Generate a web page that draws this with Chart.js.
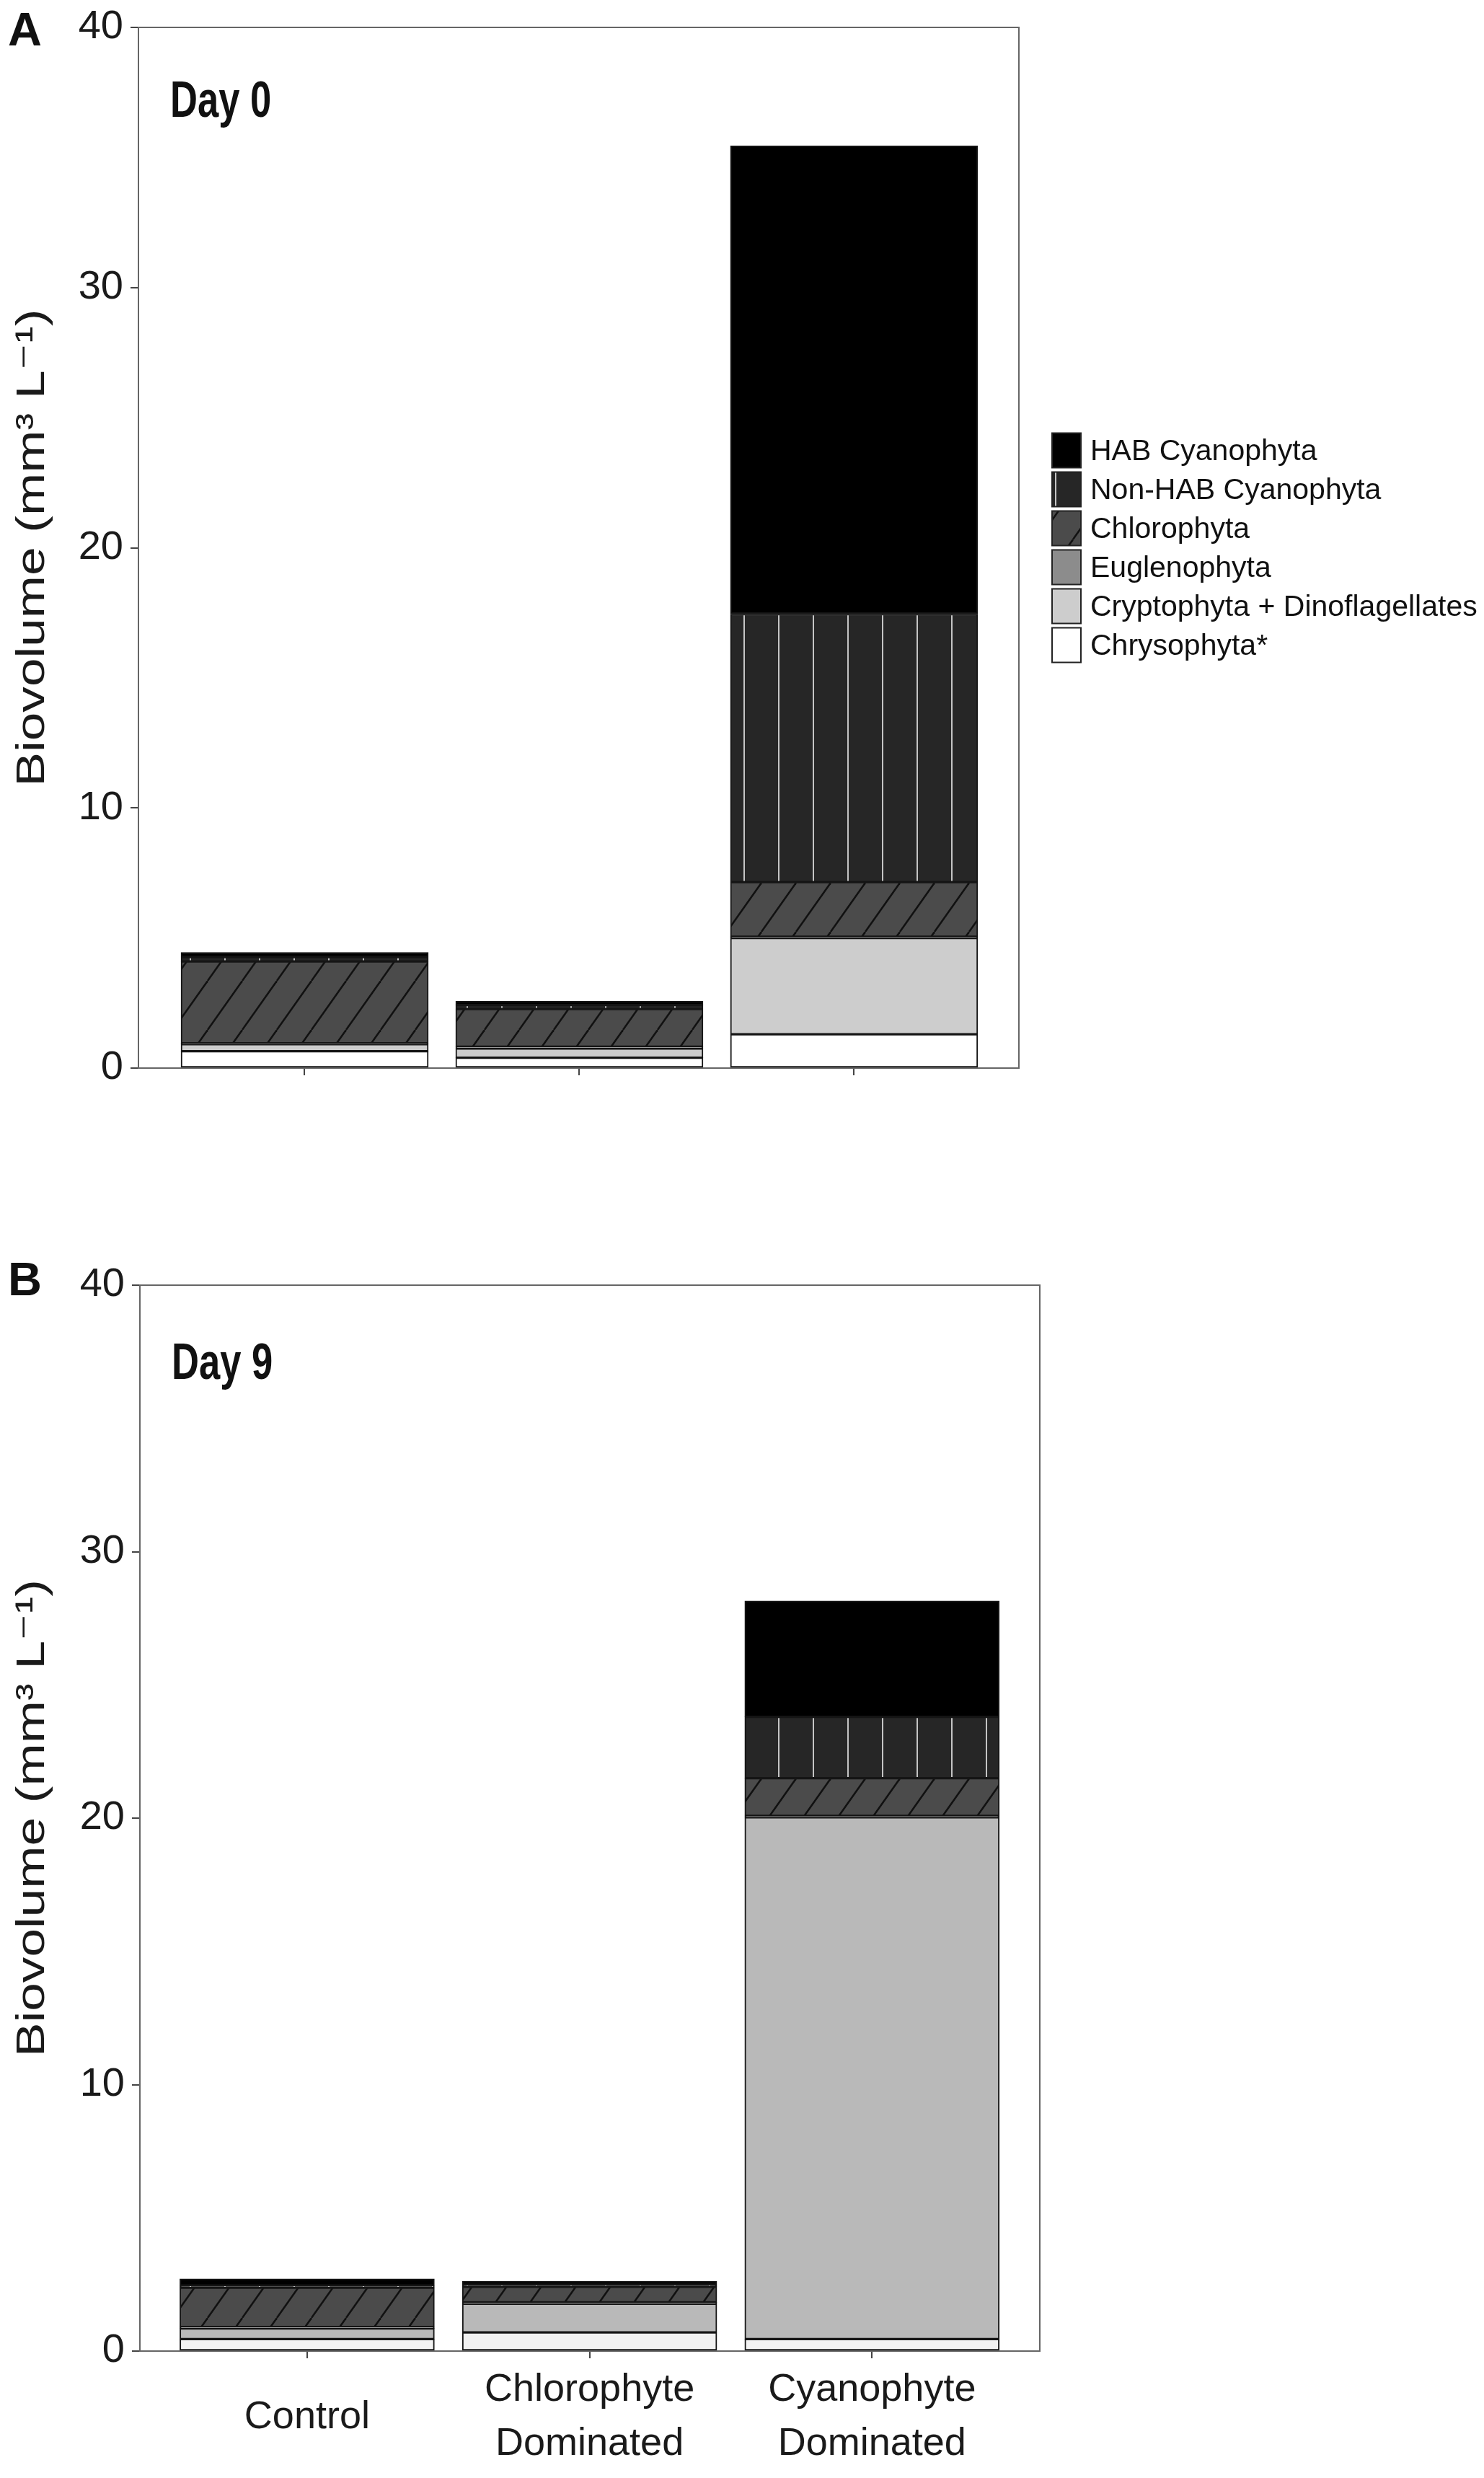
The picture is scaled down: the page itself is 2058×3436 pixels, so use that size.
<!DOCTYPE html>
<html>
<head>
<meta charset="utf-8">
<script src="https://cdn.jsdelivr.net/npm/chart.js@4.4.1/dist/chart.umd.min.js"></script>
<style>
  html, body { margin: 0; padding: 0; background: #fff; overflow: hidden; }
  #wrapA { position: absolute; left: 0; top: 0; width: 2058px; height: 1600px; }
  #wrapB { position: absolute; left: 0; top: 1650px; width: 2058px; height: 1786px; }
</style>
</head>
<body>
<div id="wrapA"><canvas id="chartA"></canvas></div>
<div id="wrapB"><canvas id="chartB"></canvas></div>
<script>
const categories = [['Control'], ['Chlorophyte', 'Dominated'], ['Cyanophyte', 'Dominated']];
// stack order, bottom to top
const taxa = ['Chrysophyta*', 'Cryptophyta + Dinoflagellates', 'Euglenophyta', 'Chlorophyta', 'Non-HAB Cyanophyta', 'HAB Cyanophyta'];
const yTicks = [0, 10, 20, 30, 40];
const yTitle = 'Biovolume (mm\u00B3 L\u207B\u00B9)';

// Day 0 biovolume (mm3 L-1): Control, Chlorophyte Dom., Cyanophyte Dom.
const chrysoDay0 = [0.65, 0.40, 1.30];
const cryptoDay0 = [0.27, 0.35, 3.70];
const euglenoDay0 = [0.03, 0.07, 0.05];
const chloroDay0 = [3.15, 1.45, 2.10];
const nonHabDay0 = [0.17, 0.15, 10.30];
const habDay0 = [0.18, 0.15, 18.00];

// Day 9
const chrysoDay9 = [0.45, 0.70, 0.45];
const cryptoDay9 = [0.40, 1.08, 19.58];
const euglenoDay9 = [0.05, 0.05, 0.05];
const chloroDay9 = [1.48, 0.58, 1.42];
const nonHabDay9 = [0.08, 0.08, 2.30];
const habDay9 = [0.25, 0.13, 4.35];

const SANS = '"Liberation Sans", Arial, "DejaVu Sans", sans-serif';

function tile(w, h, draw) {
  const c = document.createElement('canvas');
  c.width = w; c.height = h;
  const g = c.getContext('2d');
  draw(g, w, h);
  return g.createPattern(c, 'repeat');
}

// white vertical rules on near-black
const nonHabFill = tile(48, 10, (g, w, h) => {
  g.fillStyle = '#262626'; g.fillRect(0, 0, w, h);
  g.fillStyle = '#c4c4c4'; g.fillRect(23, 0, 2, h);
});

// black diagonal hatch on dark grey
const chloroFill = tile(48, 68, (g, w, h) => {
  g.fillStyle = '#4b4b4b'; g.fillRect(0, 0, w, h);
  g.strokeStyle = '#111'; g.lineWidth = 2.5;
  [-w, 0, w].forEach(dx => {
    g.beginPath(); g.moveTo(dx, h); g.lineTo(dx + w, 0); g.stroke();
  });
});

function makeDatasets(values, colors) {
  return taxa.map((name, i) => ({
    label: name,
    data: values[i].map((v, j) => ({ x: j, y: v })),
    backgroundColor: colors[i],
    borderColor: '#151515',
    borderWidth: 2,
    borderSkipped: false
  }));
}

// frame, panel letter, day label, stretched axis title and legend
const panelDecor = {
  id: 'panelDecor',
  afterDatasetsDraw(chart, args, opts) {
    const { ctx, chartArea: a } = chart;
    ctx.save();
    ctx.strokeStyle = '#666';
    ctx.lineWidth = 2;
    ctx.strokeRect(a.left, a.top, a.right - a.left, a.bottom - a.top);

    ctx.fillStyle = '#111';
    ctx.textBaseline = 'alphabetic';
    ctx.textAlign = 'left';

    // condensed bold "Day n"
    ctx.save();
    ctx.translate(a.left + 44, a.top + opts.dayDy);
    ctx.scale(0.74, 1);
    ctx.font = 'bold 71px ' + SANS;
    ctx.fillText(opts.day, 0, 0);
    ctx.restore();

    ctx.font = 'bold 65px ' + SANS;
    ctx.fillText(opts.letter, 11, a.top + opts.letterDy);

    // y title, stretched along its length like the original
    ctx.save();
    ctx.translate(46, (a.top + a.bottom) / 2);
    ctx.rotate(-Math.PI / 2);
    ctx.scale(1.27, 1);
    ctx.font = '56px ' + SANS;
    ctx.textAlign = 'center';
    ctx.textBaseline = 'middle';
    ctx.fillStyle = '#1a1a1a';
    ctx.fillText(yTitle, 0, 0);
    ctx.restore();

    if (opts.legend) {
      const items = chart.data.datasets.slice().reverse();
      const rowH = 54, boxW = 40, boxH = 48;
      const x0 = a.right + 46;
      let y = (a.top + a.bottom) / 2 - items.length * rowH / 2;
      ctx.font = '41px ' + SANS;
      ctx.textBaseline = 'middle';
      items.forEach(ds => {
        ctx.fillStyle = ds.backgroundColor;
        ctx.fillRect(x0, y + 3, boxW, boxH);
        ctx.strokeStyle = '#222';
        ctx.lineWidth = 2;
        ctx.strokeRect(x0, y + 3, boxW, boxH);
        ctx.fillStyle = '#111';
        ctx.fillText(ds.label, x0 + boxW + 13, y + rowH / 2 + 2);
        y += rowH;
      });
    }
    ctx.restore();
  }
};

function buildPanel(id, values, colors, p) {
  return new Chart(document.getElementById(id), {
    type: 'bar',
    data: { datasets: makeDatasets(values, colors) },
    plugins: [panelDecor],
    options: {
      responsive: true,
      maintainAspectRatio: false,
      animation: false,
      devicePixelRatio: 1,
      layout: { padding: { top: p.top, right: p.right, bottom: 0, left: 0 } },
      datasets: { bar: { barThickness: p.barThickness } },
      plugins: {
        legend: { display: false },
        tooltip: { enabled: false },
        panelDecor: { day: p.day, dayDy: p.dayDy, letter: p.letter, letterDy: p.letterDy, legend: p.legend }
      },
      scales: {
        x: {
          type: 'linear',
          stacked: true,
          offset: false,
          min: p.xMin,
          max: p.xMax,
          afterBuildTicks: s => { s.ticks = categories.map((c, i) => ({ value: i })); },
          afterFit: s => { s.height = p.xHeight; },
          ticks: {
            callback: v => p.showLabels ? categories[v] : '',
            font: { family: SANS, size: 54, lineHeight: 1.4 },
            color: '#1a1a1a',
            padding: 44,
            maxRotation: 0,
            crossAlign: 'center'
          },
          grid: { drawOnChartArea: false, drawTicks: true, tickLength: 10, color: '#444', lineWidth: 2, offset: false },
          border: { display: true, color: '#555', width: 2 }
        },
        y: {
          stacked: true,
          min: 0,
          max: 40,
          afterBuildTicks: s => { s.ticks = yTicks.map(v => ({ value: v })); },
          afterFit: s => { s.width = p.yWidth; },
          ticks: {
            font: { family: SANS, size: 56, lineHeight: 1 },
            color: '#1a1a1a',
            padding: 10
          },
          grid: { drawOnChartArea: false, drawTicks: true, tickLength: 11, color: '#444', lineWidth: 2 },
          border: { display: true, color: '#555', width: 2 },
          title: { display: false }
        }
      }
    }
  });
}

buildPanel('chartA',
  [chrysoDay0, cryptoDay0, euglenoDay0, chloroDay0, nonHabDay0, habDay0],
  ['#ffffff', '#cdcdcd', '#8c8c8c', chloroFill, nonHabFill, '#000000'],
  { top: 32, right: 645, xHeight: 119, yWidth: 192, xMin: -0.605, xMax: 2.6, barThickness: 343,
    day: 'Day 0', dayDy: 124, letter: 'A', letterDy: 25, legend: true, showLabels: false });

buildPanel('chartB',
  [chrysoDay9, cryptoDay9, euglenoDay9, chloroDay9, nonHabDay9, habDay9],
  ['#f2f2f2', '#b9b9b9', '#8c8c8c', chloroFill, nonHabFill, '#000000'],
  { top: 132, right: 616, xHeight: 176, yWidth: 194, xMin: -0.592, xMax: 2.594, barThickness: 353,
    day: 'Day 9', dayDy: 130, letter: 'B', letterDy: 14, legend: false, showLabels: true });
</script>
</body>
</html>
